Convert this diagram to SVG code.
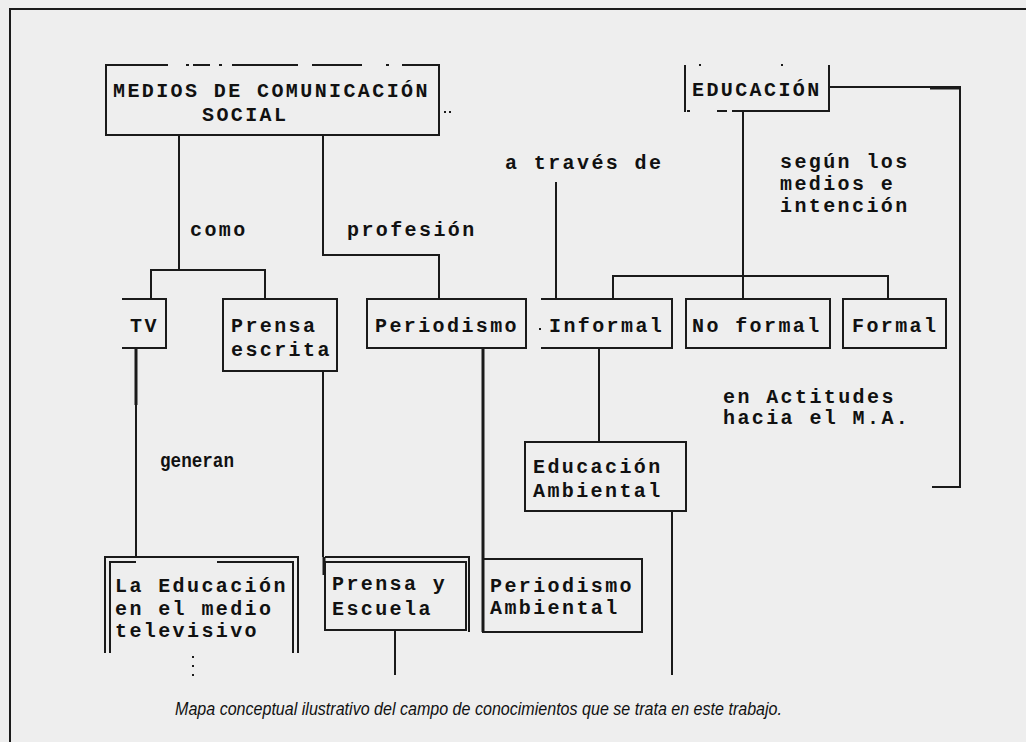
<svg xmlns="http://www.w3.org/2000/svg" width="1026" height="742" viewBox="0 0 1026 742">
<style>
.bg{fill:#eeeeee}
.ln{stroke:#1a1a1a;stroke-width:2;fill:none}
.th{stroke:#1a1a1a;stroke-width:3;fill:none}
.box{stroke:#1a1a1a;stroke-width:2;fill:none}
.t{font-family:"Liberation Mono","DejaVu Sans Mono",monospace;font-weight:bold;font-size:20px;letter-spacing:2.4px;fill:#111}
.cap{font-family:"Liberation Sans",Arial,sans-serif;font-style:italic;font-size:19px;fill:#111}
.dot{fill:#1a1a1a}
</style>
<rect class="bg" x="0" y="0" width="1026" height="742"/>
<g id="frame">
<line class="ln" x1="10" y1="9" x2="1026" y2="9"/>
<line class="ln" x1="10" y1="8" x2="10" y2="742"/>
</g>
<g id="connectors">
<line class="ln" x1="179" y1="135" x2="179" y2="270"/>
<line class="ln" x1="150" y1="270" x2="266" y2="270"/>
<line class="ln" x1="151" y1="270" x2="151" y2="299"/>
<line class="ln" x1="265" y1="270" x2="265" y2="299"/>
<line class="ln" x1="323" y1="135" x2="323" y2="255"/>
<line class="ln" x1="322" y1="255" x2="440" y2="255"/>
<line class="ln" x1="439" y1="255" x2="439" y2="299"/>
<line class="ln" x1="556" y1="182" x2="556" y2="299"/>
<line class="ln" x1="743" y1="111" x2="743" y2="299"/>
<line class="ln" x1="612" y1="276" x2="889" y2="276"/>
<line class="ln" x1="613" y1="276" x2="613" y2="299"/>
<line class="ln" x1="888" y1="276" x2="888" y2="299"/>
<line class="ln" x1="829" y1="87" x2="960" y2="87"/>
<line class="th" x1="930" y1="88" x2="960" y2="88"/>
<line class="ln" x1="960" y1="86" x2="960" y2="488"/>
<line class="ln" x1="932" y1="487" x2="961" y2="487"/>
<line class="th" x1="136" y1="348" x2="136" y2="405"/>
<line class="ln" x1="136" y1="405" x2="136" y2="557"/>
<line class="ln" x1="323" y1="371" x2="323" y2="557"/>
<line class="th" x1="324" y1="557" x2="324" y2="575"/>
<line class="th" x1="483" y1="348" x2="483" y2="632"/>
<line class="ln" x1="599" y1="348" x2="599" y2="442"/>
<line class="ln" x1="672" y1="511" x2="672" y2="675"/>
<line class="ln" x1="395" y1="630" x2="395" y2="675"/>
</g>
<g id="n-medios">
<line class="ln" x1="106" y1="65" x2="168" y2="65"/>
<line class="ln" x1="186" y1="65" x2="189" y2="65"/>
<line class="ln" x1="193" y1="65" x2="210" y2="65"/>
<line class="ln" x1="219" y1="65" x2="222" y2="65"/>
<line class="ln" x1="232" y1="65" x2="298" y2="65"/>
<line class="ln" x1="312" y1="65" x2="362" y2="65"/>
<line class="ln" x1="386" y1="65" x2="389" y2="65"/>
<line class="ln" x1="402" y1="65" x2="440" y2="65"/>
<polyline class="ln" points="106,64 106,135 439,135 439,64"/>
<text class="t" x="113" y="97">MEDIOS DE COMUNICACIÓN</text>
<text class="t" x="202" y="121">SOCIAL</text>
<rect class="dot" x="444" y="111" width="2" height="2"/>
<rect class="dot" x="449" y="111" width="2" height="2"/>
</g>
<g id="n-educacion">
<line class="ln" x1="685" y1="65" x2="685" y2="112"/>
<line class="ln" x1="829" y1="65" x2="829" y2="112"/>
<line class="ln" x1="717" y1="111" x2="727" y2="111"/>
<line class="ln" x1="732" y1="111" x2="830" y2="111"/>
<rect class="dot" x="687" y="110" width="3" height="2"/>
<rect class="dot" x="699" y="64" width="2" height="2"/>
<rect class="dot" x="781" y="64" width="2" height="2"/>
<text class="t" x="692" y="96">EDUCACIÓN</text>
</g>
<g id="labels">
<text class="t" x="190" y="236">como</text>
<text class="t" x="347" y="236">profesión</text>
<text class="t" x="505" y="169">a través de</text>
<text class="t" x="780" y="168">según los</text>
<text class="t" x="780" y="190">medios e</text>
<text class="t" x="780" y="212">intención</text>
<text class="t" x="723" y="403">en Actitudes</text>
<text class="t" x="723" y="424">hacia el M.A.</text>
<text class="t" x="160" y="467" style="letter-spacing:0" textLength="74" lengthAdjust="spacingAndGlyphs">generan</text>
</g>
<g id="n-tv">
<polyline class="ln" points="122,299 166,299 166,348 122,348"/>
<text class="t" x="130" y="332">TV</text>
</g>
<g id="n-prensa-escrita">
<rect class="box" x="223" y="299" width="114" height="72"/>
<text class="t" x="231" y="332">Prensa</text>
<text class="t" x="231" y="356">escrita</text>
</g>
<g id="n-periodismo">
<rect class="box" x="367" y="299" width="159" height="49"/>
<text class="t" x="375" y="332">Periodismo</text>
</g>
<g id="n-informal">
<polyline class="ln" points="541,299 672,299 672,348 541,348"/>
<rect class="dot" x="539" y="328" width="2" height="2"/>
<text class="t" x="549" y="332">Informal</text>
</g>
<g id="n-noformal">
<rect class="box" x="686" y="299" width="144" height="49"/>
<text class="t" x="692" y="332">No formal</text>
</g>
<g id="n-formal">
<rect class="box" x="843" y="299" width="103" height="49"/>
<text class="t" x="852" y="332">Formal</text>
</g>
<g id="n-educacion-ambiental">
<rect class="box" x="525" y="442" width="161" height="69"/>
<text class="t" x="533" y="473">Educación</text>
<text class="t" x="533" y="497">Ambiental</text>
</g>
<g id="n-la-educacion">
<polyline class="ln" points="105,653 105,557 298,557 298,653"/>
<polyline class="ln" points="110,653 110,562 136,562"/>
<polyline class="ln" points="217,562 293,562 293,653"/>
<text class="t" x="115" y="592">La Educación</text>
<text class="t" x="115" y="615">en el medio</text>
<text class="t" x="115" y="637">televisivo</text>
<rect class="dot" x="192" y="656" width="2" height="2"/>
<rect class="dot" x="192" y="665" width="2" height="2"/>
<rect class="dot" x="192" y="674" width="2" height="2"/>
</g>
<g id="n-prensa-escuela">
<polyline class="ln" points="325,557 469,557 469,632"/>
<rect class="box" x="325" y="562" width="141" height="68"/>
<text class="t" x="332" y="590">Prensa y</text>
<text class="t" x="332" y="615">Escuela</text>
</g>
<g id="n-periodismo-ambiental">
<rect class="box" x="483" y="559" width="159" height="73"/>
<text class="t" x="490" y="592">Periodismo</text>
<text class="t" x="490" y="614">Ambiental</text>
</g>
<g id="caption">
<text class="cap" x="175" y="715" textLength="607" lengthAdjust="spacingAndGlyphs">Mapa conceptual ilustrativo del campo de conocimientos que se trata en este trabajo.</text>
</g>
</svg>
